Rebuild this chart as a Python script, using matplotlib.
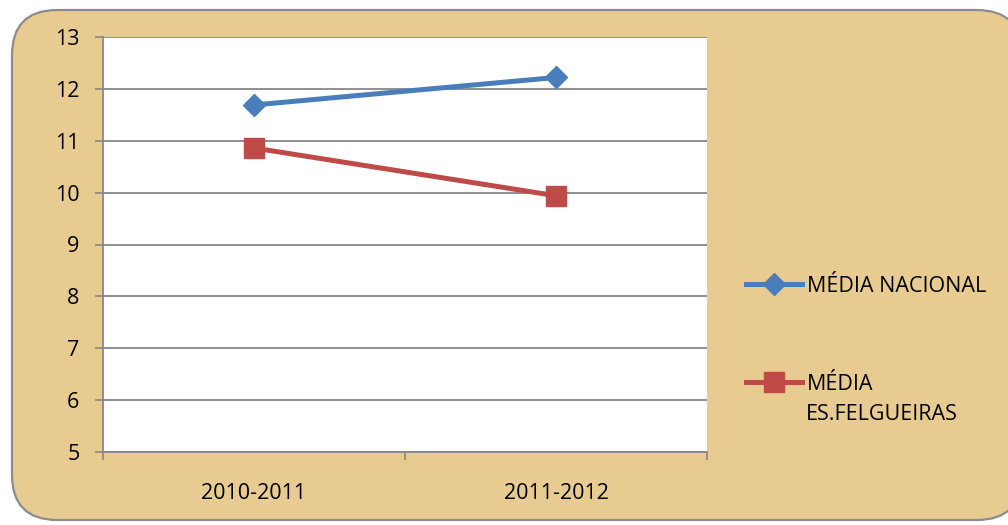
import matplotlib.pyplot as plt
from matplotlib.patches import FancyBboxPatch
from matplotlib.lines import Line2D

# dados
anos = ['2010-2011', '2011-2012']
media_nacional = [11.69, 12.22]
media_felgueiras = [10.86, 9.94]

plt.rcParams['font.family'] = ['Open Sans', 'DejaVu Sans']
fs = 15.5

fig = plt.figure(figsize=(10.08, 5.25), dpi=100)
fig.patch.set_facecolor('white')

# fundo tipo papiro com cantos arredondados
fundo = FancyBboxPatch((12 / 1008, 5 / 525), 1010 / 1008, 510 / 525,
                       boxstyle='round,pad=0,rounding_size=0.045',
                       transform=fig.transFigure, facecolor='#E7CB91',
                       edgecolor='#8C8C8C', linewidth=1.6,
                       mutation_aspect=1008 / 525, zorder=-10)
fig.add_artist(fundo)

ax = fig.add_axes([103 / 1008, 1 - 452 / 525, 604 / 1008, 415 / 525])
ax.set_facecolor('white')

x = [0, 1]
ax.plot(x, media_nacional, color='#4A7EBB', linewidth=3.6, marker='D', markersize=11,
        zorder=3)
ax.plot(x, media_felgueiras, color='#BE4B48', linewidth=3.6, marker='s', markersize=14,
        zorder=3)

ax.set_xlim(-0.5, 1.5)
ax.set_ylim(5, 13)
ax.set_yticks(range(5, 14))
ax.yaxis.grid(True, color='#878787', linewidth=1.3)
ax.set_axisbelow(True)

ax.set_xticks(x)
ax.set_xticklabels(anos)
ax.set_xticks([-0.5, 0.5, 1.5], minor=True)
ax.tick_params(axis='x', which='major', length=0, pad=22, labelsize=fs)
ax.tick_params(axis='x', which='minor', length=6, width=1.2, color='#878787')
ax.tick_params(axis='y', length=6, width=1.2, color='#878787', pad=11, labelsize=fs)

for lado in ['top', 'right']:
    ax.spines[lado].set_visible(False)
for lado in ['left', 'bottom']:
    ax.spines[lado].set_color('#878787')
    ax.spines[lado].set_linewidth(1.3)

h1 = Line2D([], [], color='#4A7EBB', linewidth=3.6, marker='D', markersize=11)
h2 = Line2D([], [], color='#BE4B48', linewidth=3.6, marker='s', markersize=14)
fig.legend([h1], ['MÉDIA NACIONAL'], loc='center left',
           bbox_to_anchor=(727 / 1008, 1 - 286 / 525), frameon=False,
           fontsize=fs, handlelength=2.6, handletextpad=0.2)
fig.legend([h2], ['MÉDIA'], loc='center left',
           bbox_to_anchor=(727 / 1008, 1 - 384 / 525), frameon=False,
           fontsize=fs, handlelength=2.6, handletextpad=0.2)
fig.text(806 / 1008, 1 - 415 / 525, 'ES.FELGUEIRAS', fontsize=fs,
         ha='left', va='center')

fig.savefig('out.png', dpi=100)
